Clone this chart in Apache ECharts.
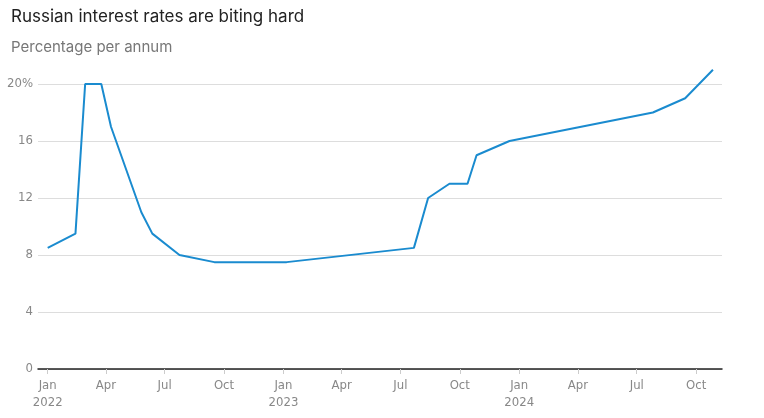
<!DOCTYPE html>
<html>
<head>
<meta charset="utf-8">
<script src="https://cdn.jsdelivr.net/npm/echarts@6/dist/echarts.min.js"></script>
<style>
  html, body { margin: 0; padding: 0; background: #fff; }
  #chart { width: 764px; height: 418px; }
</style>
</head>
<body>
<div id="chart"></div>
<script>
// Data
const dates = ['2022-01-01','2022-02-13','2022-02-28','2022-03-25','2022-04-09','2022-05-26','2022-06-12','2022-07-24','2022-09-16','2023-01-06','2023-07-22','2023-08-13','2023-09-15','2023-10-13','2023-10-27','2023-12-17','2024-07-26','2024-09-14','2024-10-27'];
const rates = [8.5, 9.5, 20, 20, 17, 11, 9.5, 8, 7.5, 7.5, 8.5, 12, 13, 13, 15, 16, 18, 19, 21];
const tickDates = ['2022-01-01','2022-04-01','2022-07-01','2022-10-01','2023-01-01','2023-04-01','2023-07-01','2023-10-01','2024-01-01','2024-04-01','2024-07-01','2024-10-01'];
const tickLabels = ['Jan\n2022','Apr','Jul','Oct','Jan\n2023','Apr','Jul','Oct','Jan\n2024','Apr','Jul','Oct'];
const yTicks = [0, 4, 8, 12, 16, 20];

const ts = d => Date.parse(d);
const tickTs = tickDates.map(ts);
const seriesData = dates.map((d, i) => [ts(d), rates[i]]);

const labelFont = "'DejaVu Sans Condensed', 'Liberation Sans Narrow', 'Roboto', sans-serif";
const chart = echarts.init(document.getElementById('chart'), null, { renderer: 'canvas' });
chart.setOption({
  animation: false,
  title: [
    { text: 'Russian interest rates are biting hard', left: 6, top: 3,
      textStyle: { fontFamily: 'Inter, Lato, sans-serif', fontSize: 17, fontWeight: 'normal', color: '#222' } },
    { text: 'Percentage per annum', left: 6, top: 35,
      textStyle: { fontFamily: 'Inter, Lato, sans-serif', fontSize: 15, fontWeight: 'normal', color: '#777' } }
  ],
  grid: { left: 38, right: 42, top: 84, bottom: 49, containLabel: false },
  xAxis: {
    type: 'value',
    min: ts('2021-12-17'),
    max: ts('2024-11-10'),
    axisLine: { show: true, lineStyle: { color: '#222', width: 1.5 } },
    axisTick: { show: true, customValues: tickTs, length: 5, lineStyle: { color: '#ccc' } },
    axisLabel: {
      customValues: tickTs,
      formatter: v => { const i = tickTs.indexOf(v); return i >= 0 ? tickLabels[i] : ''; },
      fontFamily: labelFont, fontSize: 13, color: '#888', lineHeight: 17, margin: 8,
      hideOverlap: false
    },
    splitLine: { show: false }
  },
  yAxis: {
    type: 'value',
    min: 0, max: 20, interval: 4,
    axisLine: { show: false },
    axisTick: { show: false },
    axisLabel: {
      formatter: v => (yTicks.indexOf(v) >= 0 ? (v === 20 ? '20%' : String(v)) : ''),
      fontFamily: labelFont, fontSize: 13, color: '#888', margin: 5
    },
    splitLine: { show: true, lineStyle: { color: '#ddd', width: 1 } }
  },
  series: [{
    type: 'line',
    data: seriesData,
    showSymbol: false,
    clip: false,
    lineStyle: { color: '#1a8bcf', width: 2 },
    itemStyle: { color: '#1a8bcf' }
  }]
});
</script>
</body>
</html>
